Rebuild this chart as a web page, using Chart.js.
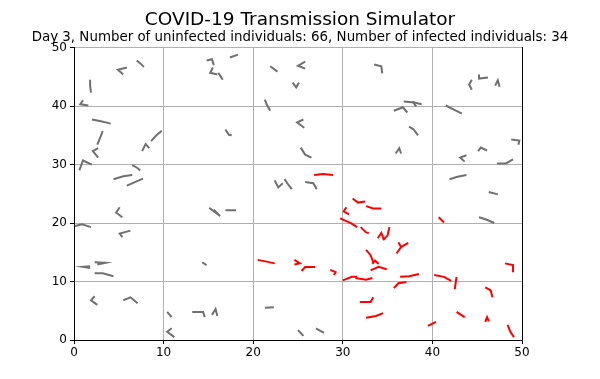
<!DOCTYPE html>
<html>
<head>
<meta charset="utf-8">
<script src="https://cdn.jsdelivr.net/npm/chart.js@4/dist/chart.umd.min.js"></script>
<style>
  html, body { margin: 0; padding: 0; background: #fff; }
  #wrap { width: 600px; height: 379px; }
</style>
</head>
<body>
<div id="wrap"><canvas id="sim"></canvas></div>
<script>
// each trail: x0,y0, x1,y1, x2,y2 (last few positions of one individual)
const uninfectedTrails = [
  [1.8,44.5, 1.8,43.4, 1.9,42.3], [5.9,46.6, 4.9,46.2, 5.5,45.4], [7.0,47.8, 7.4,47.3, 7.8,46.7],
  [1.0,41.0, 0.7,40.3, 1.6,40.1], [2.0,37.7, 3.0,37.4, 4.1,37.0], [3.2,35.7, 2.9,34.5, 2.6,33.4],
  [2.7,32.8, 2.1,32.3, 2.7,31.2], [0.6,29.0, 1.0,30.7, 2.0,30.0], [7.6,32.3, 8.0,33.5, 8.4,32.8],
  [8.6,34.0, 9.2,35.0, 9.8,35.8], [6.5,29.9, 7.0,29.5, 7.4,29.0], [4.4,27.5, 5.5,28.0, 6.5,28.2],
  [5.9,26.4, 6.8,27.0, 7.7,27.6], [14.8,47.8, 15.4,48.0, 15.6,47.0], [15.5,46.6, 15.2,45.7, 16.0,45.4],
  [16.1,45.7, 16.4,45.0, 16.6,44.5], [17.4,48.3, 18.3,48.8], [21.9,46.8, 22.7,45.9],
  [25.8,47.6, 25.0,46.9, 25.8,46.4], [24.4,44.0, 24.8,43.2, 25.1,44.0], [21.3,41.1, 21.5,40.3, 21.9,39.2],
  [25.6,37.7, 24.9,37.2, 25.7,36.3], [16.9,36.0, 17.3,35.1, 17.6,35.0], [25.3,32.9, 25.8,31.7, 26.5,31.2],
  [22.4,27.3, 22.8,26.1, 23.3,26.8], [23.5,27.5, 23.9,26.6, 24.3,25.8], [25.8,27.0, 26.7,26.8, 27.1,25.8],
  [33.5,47.1, 34.3,46.8, 34.4,45.6], [44.4,44.5, 44.1,43.7, 44.4,42.8], [45.2,45.4, 45.2,44.7, 46.2,44.9],
  [47.0,43.5, 47.3,44.4, 47.5,43.3], [36.8,40.8, 38.0,40.6, 38.8,40.3], [35.7,39.2, 36.7,39.8, 37.2,38.9],
  [37.8,40.8, 38.2,39.9], [41.5,40.1, 42.4,39.4, 43.3,38.7], [37.4,36.5, 37.9,36.0, 38.4,35.0],
  [35.9,31.9, 36.3,32.8, 36.5,31.9], [43.8,31.6, 43.1,31.2, 43.6,30.5], [45.1,32.3, 45.4,32.9, 46.1,32.4],
  [48.8,34.3, 49.7,34.1, 49.6,33.4], [47.2,30.2, 48.2,30.2, 49.0,30.9], [41.9,27.5, 42.8,27.9, 43.8,28.2],
  [46.3,25.3, 47.3,24.9], [45.2,21.0, 46.0,20.6, 46.9,20.0], [5.1,22.7, 4.7,21.8, 5.4,21.0],
  [0.1,19.5, 0.9,19.8, 1.9,19.3], [5.4,17.6, 5.1,18.2, 6.3,18.7], [15.1,22.6, 16.3,21.2, 15.6,22.3],
  [16.9,22.2, 18.1,22.2], [1.8,12.6, 1.0,12.5, 1.8,12.3], [2.3,13.3, 3.5,13.2, 2.6,12.9],
  [2.3,11.4, 3.2,11.4, 4.4,10.9], [2.3,7.5, 1.9,6.8, 2.6,6.0], [5.5,6.8, 6.3,7.3, 7.1,6.3],
  [14.3,13.3, 14.8,12.8], [10.4,4.8, 10.9,3.9], [10.9,2.0, 10.4,1.4, 11.2,0.5],
  [13.2,4.8, 14.4,4.8, 14.6,3.9], [15.4,4.3, 15.8,5.3, 16.0,4.1], [21.3,5.5, 22.3,5.6],
  [25.0,1.7, 25.6,0.7], [27.0,2.0, 27.9,1.2]
];

const infectedTrails = [
  [26.8,28.2, 27.8,28.4, 28.9,28.2], [20.5,13.7, 21.5,13.4, 22.4,13.1], [24.6,13.7, 25.2,13.1, 24.6,12.9],
  [25.4,11.8, 25.8,12.5, 26.9,12.5], [28.6,12.0, 29.2,11.6, 29.0,11.1], [30.0,10.2, 31.0,10.8, 31.6,10.8],
  [31.1,24.2, 31.7,23.5, 32.5,23.7], [30.4,22.7, 30.1,22.0, 30.7,21.5], [29.7,20.8, 30.9,20.0, 31.6,19.3],
  [32.6,22.9, 33.4,22.5, 34.3,22.5], [35.2,19.3, 35.0,17.9, 34.5,17.1], [33.9,17.4, 34.3,18.3, 34.6,17.1],
  [32.0,19.3, 32.6,18.4, 32.9,18.3], [37.3,16.6, 36.5,15.9, 36.0,14.8], [32.6,15.4, 33.1,14.5, 33.4,13.3],
  [33.3,13.0, 33.6,13.6, 34.0,13.0], [33.1,11.9, 34.0,12.5, 34.9,12.1], [31.4,10.6, 32.6,10.3, 33.3,10.6],
  [36.4,10.8, 37.4,10.9, 38.5,11.3], [35.7,8.9, 36.2,9.7, 37.1,9.9], [40.2,11.1, 41.3,10.8, 42.1,10.1],
  [42.7,10.8, 42.6,9.8, 42.5,8.7], [45.9,9.0, 46.5,8.5, 46.7,7.3], [48.1,13.1, 49.0,12.8, 49.0,11.6],
  [31.9,6.5, 33.1,6.5, 33.4,7.3], [32.6,3.8, 33.7,4.1, 34.5,4.6], [39.5,2.4, 40.4,3.1],
  [42.7,4.8, 43.2,4.3, 43.6,3.9], [45.9,3.1, 46.1,3.9, 46.3,3.2], [48.4,2.6, 48.7,1.4, 49.1,0.5],
  [40.7,21.0, 41.3,20.1], [36.2,16.7, 36.5,15.9]
];

const tickValues = [0, 10, 20, 30, 40, 50];
const day = 3;
const uninfectedCount = 66;
const infectedCount = 34;

function toPoints(trail){
    let pts = [];
    for(let i = 0; i < trail.length; i += 2){
        pts.push({x: trail[i], y: trail[i+1]});
    }
    return pts;
}

function makeDatasets(trails, color){
    return trails.map(t => ({
        data: toPoints(t),
        showLine: true,
        borderColor: color,
        borderWidth: 2,
        pointRadius: 0,
        tension: 0
    }));
}

const datasets = makeDatasets(uninfectedTrails, 'rgb(112,112,112)')
    .concat(makeDatasets(infectedTrails, 'rgb(255,0,0)'));

const tickFont = {family: 'DejaVu Sans', size: 12};

new Chart(document.querySelector('#sim').getContext('2d'), {
    type: 'scatter',
    data: {datasets: datasets},
    options: {
        responsive: true,
        maintainAspectRatio: false,
        animation: false,
        layout: {padding: 0},
        plugins: {
            legend: {display: false},
            tooltip: {enabled: false},
            title: {
                display: true,
                text: 'COVID-19 Transmission Simulator',
                color: '#000',
                font: {family: 'DejaVu Sans', size: 18.5, weight: 'normal', lineHeight: 1.2},
                padding: {top: 9, bottom: 0}
            },
            subtitle: {
                display: true,
                text: 'Day ' + day + ', Number of uninfected individuals: ' + uninfectedCount +
                      ', Number of infected individuals: ' + infectedCount,
                color: '#000',
                font: {family: 'DejaVu Sans', size: 13.4, lineHeight: 1},
                padding: {top: 0, bottom: 3}
            }
        },
        scales: {
            x: {
                type: 'linear',
                min: 0, max: 50,
                afterBuildTicks: s => { s.ticks = tickValues.map(v => ({value: v})); },
                afterFit: s => { s.height = 39; },
                ticks: {color: '#000', font: tickFont, padding: 2, maxRotation: 0},
                grid: {color: '#b0b0b0', tickColor: '#000', tickLength: 4},
                border: {color: '#000', width: 1}
            },
            y: {
                type: 'linear',
                min: 0, max: 50,
                afterBuildTicks: s => { s.ticks = tickValues.map(v => ({value: v})); },
                afterFit: s => { s.width = 74; },
                ticks: {color: '#000', font: tickFont, padding: 3},
                grid: {color: '#b0b0b0', tickColor: '#000', tickLength: 4},
                border: {color: '#000', width: 1}
            },
            yRight: {
                type: 'linear',
                position: 'right',
                min: 0, max: 50,
                afterFit: s => { s.width = 78; },
                ticks: {display: false},
                grid: {display: false},
                border: {color: '#000', width: 1}
            }
        }
    }
});
</script>
</body>
</html>
